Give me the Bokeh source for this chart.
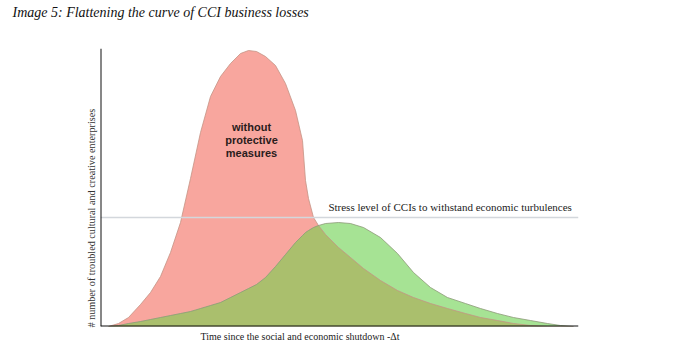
import numpy as np
from bokeh.plotting import figure
from bokeh.models import Span, Label, Range1d, Title
from bokeh.embed import file_html
from bokeh.resources import INLINE

# time since shutdown (arbitrary units) and number of troubled enterprises (arbitrary units)
time_units = [8, 18, 28, 40, 50, 60, 70, 80, 90, 100, 110, 120, 130, 140, 148, 156, 165, 175,
              185, 195, 202, 205, 208, 213, 218, 225, 238, 250, 263, 280, 297, 313, 330, 347,
              365, 380, 397, 413, 430, 447, 460, 473]
without_measures = [0, 3, 9, 22, 34, 50, 74, 104, 148, 194, 230, 250, 263, 273, 276, 275, 270,
                    261, 243, 216, 186, 146, 128, 109, 101, 92, 79, 69, 58, 46, 36, 29, 23, 18,
                    13, 9, 6, 3, 1, 0, 0, 0]
with_measures = [0, 1, 3, 5, 7, 9, 11, 13, 15, 18, 21, 24, 29, 34, 38, 42, 49, 60, 72, 84, 91,
                 94, 96, 99, 101, 103, 104, 103, 99, 89, 73, 54, 39, 29, 23, 18, 13, 9, 6, 3, 1, 0]
stress_level = 109

title_text = "Image 5: Flattening the curve of  CCI business losses"
x_label = "Time since the social and economic shutdown -\u0394t"
y_label = "# number of troubled cultural and creative enterprises"
stress_text = "Stress level of  CCIs to withstand economic turbulences"
peak_text = ["without", "protective", "measures"]

x = np.array(time_units, dtype=float)
red = np.array(without_measures, dtype=float)
green = np.array(with_measures, dtype=float)
overlap = np.minimum(red, green)

serif = "Liberation Serif"

p = figure(width=673, height=354, output_backend="svg", toolbar_location=None,
           x_range=Range1d(0, 478), y_range=Range1d(0, 278),
           min_border_left=100, min_border_right=95, min_border_top=48, min_border_bottom=28)
p.xaxis.visible = False
p.yaxis.visible = False
p.xgrid.visible = False
p.ygrid.visible = False
p.outline_line_color = None
p.background_fill_color = "white"
p.border_fill_color = "white"

p.title.text = title_text
p.title.text_font = serif
p.title.text_font_style = "italic"
p.title.text_font_size = "14px"
p.title.text_color = "#111111"
p.title.align = "left"
p.title.offset = -88
p.title.vertical_align = "top"
p.title.standoff = 0

# empty spacer between the title and the plot area
p.add_layout(Title(text=" ", text_font_size="10px", standoff=14), "above")

p.add_layout(Title(text=x_label, text_font=serif, text_font_style="normal",
                   text_font_size="10px", text_color="#222222", align="left",
                   offset=100, standoff=5), "below")
p.add_layout(Title(text=y_label, text_font=serif, text_font_style="normal",
                   text_font_size="10.2px", text_color="#333333", align="left",
                   offset=-1, standoff=8), "left")

p.varea(x=x, y1=0, y2=red, fill_color="#F8A69E")
p.varea(x=x, y1=0, y2=green, fill_color="#A6E394")
p.varea(x=x, y1=0, y2=overlap, fill_color="#AABF6D")
p.line(x, red, line_color="#c49484", line_width=1, line_alpha=0.8)
p.line(x, green, line_color="#8d9a78", line_width=1, line_alpha=0.8)

p.add_layout(Span(location=stress_level, dimension="width", line_color="#d3d7dc", line_width=1.5))
p.add_layout(Span(location=0, dimension="width", line_color="#111111", line_width=2))
p.add_layout(Span(location=0, dimension="height", line_color="#111111", line_width=2))

p.add_layout(Label(x=351, y=120, text=stress_text, text_font=serif, text_font_size="11px",
                   text_color="#222222", text_align="center", text_baseline="middle"))
for i, t in enumerate(peak_text):
    p.add_layout(Label(x=151, y=200 - 13 * i, text=t, text_font="Liberation Sans",
                       text_font_style="bold", text_font_size="11px", text_color="#2a1c1c",
                       text_align="center", text_baseline="middle"))

open("out.html", "w").write(file_html(p, INLINE))
